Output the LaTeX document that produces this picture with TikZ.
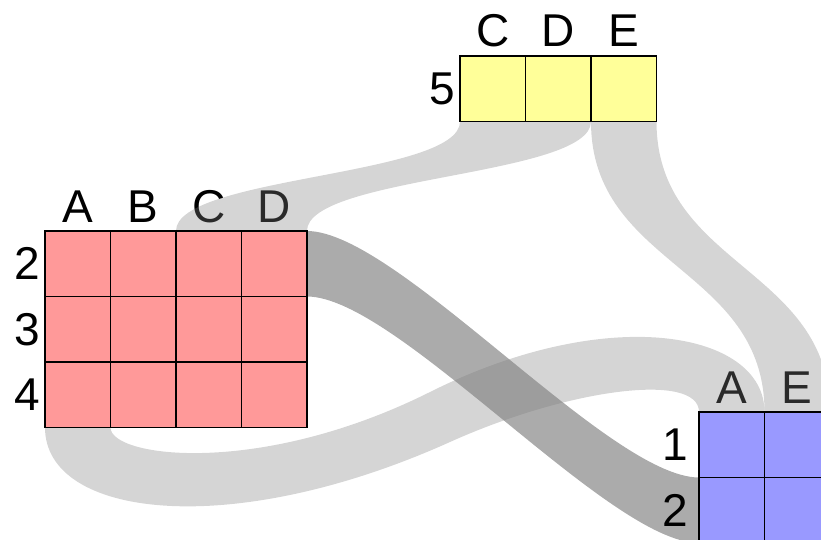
\documentclass[tikz,border=0pt]{standalone}
\usepackage{fontspec}
\setmainfont{Liberation Sans}
\usetikzlibrary{calc}

\pgfdeclarelayer{front}
\pgfsetlayers{main,front}

\definecolor{cellred}{HTML}{FF9999}
\definecolor{cellyellow}{HTML}{FFFF99}
\definecolor{cellblue}{HTML}{9999FF}

\tikzset{
  cell/.style={draw=black, line width=1.5pt, minimum width=65.5pt,
    minimum height=65.5pt, inner sep=0pt, outer sep=0pt},
  bigtext/.style={font=\fontsize{46pt}{46pt}\selectfont, inner sep=0pt, outer sep=0pt},
  collabel/.style={bigtext, anchor=base},
  rowlabel/.style={bigtext, anchor=east},
  lightband/.style={fill=gray, fill opacity=0.33},
  darkband/.style={fill=gray, fill opacity=0.66},
}

\begin{document}
\begin{tikzpicture}[x=1pt,y=-1pt]
\useasboundingbox (0,0) rectangle (821,540);

% ---- tables (kept above the ribbons) ----
\begin{pgfonlayer}{front}
  \foreach \i in {1,2,3}
    \foreach \j in {1,...,4}
      \node[cell, fill=cellred] (r-\i-\j) at ({45+65.5*(\j-0.5)},{231+65.5*(\i-0.5)}) {};
  \foreach \j in {1,2,3}
    \node[cell, fill=cellyellow] (y-1-\j) at ({460+65.5*(\j-0.5)},{56+32.75}) {};
  \foreach \i in {1,2}
    \foreach \j in {1,2}
      \node[cell, fill=cellblue] (b-\i-\j) at ({699+65.5*(\j-0.5)},{412+65.5*(\i-0.5)}) {};
  % row numbers of the blue table sit above its incoming ribbon
  \node[rowlabel] (rb-1) at ($(b-1-1.west)+(-11,0)$) {1};
  \node[rowlabel] (rb-2) at ($(b-2-1.west)+(-11,0)$) {2};
\end{pgfonlayer}

% ---- headers ----
\node[collabel] (ry-C) at ($(y-1-1.north)+(0,-9)$) {C};
\node[collabel] (ry-D) at ($(y-1-2.north)+(0,-9)$) {D};
\node[collabel] (ry-E) at ($(y-1-3.north)+(0,-9)$) {E};
\node[rowlabel] (ry-5) at ($(y-1-1.west)+(-5,0)$) {5};

\node[collabel] (rr-A) at ($(r-1-1.north)+(0,-9)$) {A};
\node[collabel] (rr-B) at ($(r-1-2.north)+(0,-9)$) {B};
\node[collabel] (rr-C) at ($(r-1-3.north)+(0,-9)$) {C};
\node[collabel] (rr-D) at ($(r-1-4.north)+(0,-9)$) {D};
\node[rowlabel] (rr-2) at ($(r-1-1.west)+(-5,0)$) {2};
\node[rowlabel] (rr-3) at ($(r-2-1.west)+(-5,0)$) {3};
\node[rowlabel] (rr-4) at ($(r-3-1.west)+(-5,0)$) {4};

\node[collabel] (rb-A) at ($(b-1-1.north)+(0,-9)$) {A};
\node[collabel] (rb-E) at ($(b-1-2.north)+(0,-9)$) {E};

% ---- ribbons ----
% red row 2 -> blue row 2
\path[darkband] (r-1-4.north east) .. controls +(90,0) and +(-90,0) .. (b-2-1.north west)
  -- (b-2-1.south west) .. controls +(-90,0) and +(90,0) .. (r-1-4.south east) -- cycle;

% yellow C,D -> red C,D
\path[lightband] (y-1-1.south west) .. controls +(0,55) and +(0,-55) .. (r-1-3.north west)
  -- (r-1-4.north east) .. controls +(0,-55) and +(0,55) .. (y-1-2.south east) -- cycle;

% yellow E -> blue E
\path[lightband] (y-1-3.south west) .. controls +(0,145) and +(0,-145) .. (b-1-2.north west)
  -- (b-1-2.north east) .. controls +(0,-145) and +(0,145) .. (y-1-3.south east) -- cycle;

% red A -> blue A
\coordinate (sOut) at (450,442);
\coordinate (sIn) at (430,392);
\path[lightband] (r-3-1.south west) .. controls +(0,90) and (230,541) .. (sOut)
  .. controls (570,388) and +(0,-40) .. (b-1-1.north west)
  -- (b-1-1.north east) .. controls +(0,-80) and (610,302) .. (sIn)
  .. controls (260,477) and +(0,30) .. (r-3-1.south east) -- cycle;

\end{tikzpicture}
\end{document}
